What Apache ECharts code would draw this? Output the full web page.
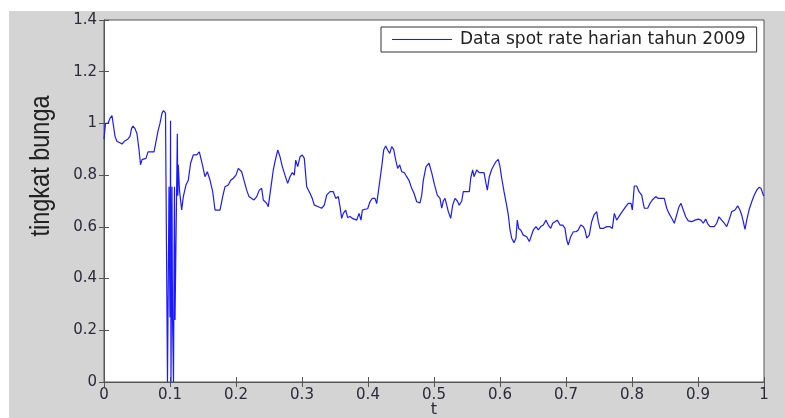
<!DOCTYPE html>
<html>
<head>
<meta charset="utf-8">
<script src="https://cdn.jsdelivr.net/npm/echarts@6/dist/echarts.min.js"></script>
<style>
  html, body { margin: 0; padding: 0; background: #ffffff; }
  #bg { position: absolute; left: 9px; top: 11px; width: 776px; height: 407px; background: #d4d4d4; }
  #chart { position: absolute; left: 0; top: 0; width: 785px; height: 418px; }
</style>
</head>
<body>
<div id="bg"></div>
<div id="chart"></div>
<script>
// x positions (t) and spot-rate values
const tValues = [
  0, 0.0023, 0.0061, 0.0091, 0.0121, 0.0144, 0.0167, 0.0197, 0.0242, 0.0273,
  0.0303, 0.0333, 0.0364, 0.0394, 0.0417, 0.0439, 0.0470, 0.0500, 0.0530, 0.0553,
  0.0576, 0.0606, 0.0636, 0.0667, 0.0697, 0.0727, 0.0758, 0.0788, 0.0818, 0.0848,
  0.0879, 0.0902, 0.0932, 0.0947, 0.0962, 0.0977, 0.0985, 0.1000, 0.1008, 0.1015,
  0.1030, 0.1038, 0.1053, 0.1068, 0.1076, 0.1098, 0.1111, 0.1118, 0.1126, 0.1144,
  0.1177, 0.1202, 0.1242, 0.1277, 0.1312, 0.1353, 0.1405, 0.1444, 0.1480, 0.1508,
  0.1530, 0.1565, 0.1606, 0.1647, 0.1682, 0.1758, 0.1798, 0.1833, 0.1883, 0.1920,
  0.1959, 0.2000, 0.2035, 0.2086, 0.2121, 0.2162, 0.2197, 0.2238, 0.2273, 0.2314,
  0.2353, 0.2389, 0.2414, 0.2465, 0.2489, 0.2515, 0.2541, 0.2565, 0.2591, 0.2632,
  0.2667, 0.2702, 0.2742, 0.2783, 0.2818, 0.2853, 0.2883, 0.2905, 0.2935, 0.2970,
  0.3005, 0.3035, 0.3071, 0.3121, 0.3156, 0.3186, 0.3247, 0.3298, 0.3338, 0.3374,
  0.3424, 0.3474, 0.3511, 0.3550, 0.3576, 0.3601, 0.3626, 0.3662, 0.3692, 0.3727,
  0.3762, 0.3792, 0.3829, 0.3864, 0.3894, 0.3914, 0.3955, 0.3995, 0.4030, 0.4065,
  0.4106, 0.4132, 0.4167, 0.4208, 0.4238, 0.4268, 0.4298, 0.4329, 0.4359, 0.4389,
  0.4420, 0.4450, 0.4480, 0.4511, 0.4550, 0.4586, 0.4621, 0.4662, 0.4697, 0.4738,
  0.4788, 0.4814, 0.4838, 0.4879, 0.4924, 0.4965, 0.5005, 0.5050, 0.5091, 0.5117,
  0.5141, 0.5167, 0.5192, 0.5217, 0.5253, 0.5283, 0.5318, 0.5353, 0.5383, 0.5420,
  0.5444, 0.5495, 0.5535, 0.5556, 0.5586, 0.5606, 0.5647, 0.5686, 0.5723, 0.5758,
  0.5788, 0.5808, 0.5838, 0.5874, 0.5909, 0.5939, 0.5974, 0.6000, 0.6026, 0.6061,
  0.6091, 0.6126, 0.6152, 0.6177, 0.6212, 0.6242, 0.6262, 0.6283, 0.6314, 0.6353,
  0.6405, 0.6444, 0.6470, 0.6505, 0.6545, 0.6580, 0.6617, 0.6656, 0.6697, 0.6732,
  0.6768, 0.6798, 0.6833, 0.6868, 0.6909, 0.6950, 0.6985, 0.7011, 0.7035, 0.7071,
  0.7111, 0.7152, 0.7186, 0.7223, 0.7262, 0.7288, 0.7314, 0.7353, 0.7389, 0.7424,
  0.7465, 0.7489, 0.7515, 0.7565, 0.7617, 0.7667, 0.7702, 0.7732, 0.7768, 0.7792,
  0.7833, 0.7868, 0.7905, 0.7944, 0.7985, 0.8005, 0.8035, 0.8071, 0.8106, 0.8147,
  0.8186, 0.8238, 0.8273, 0.8308, 0.8338, 0.8359, 0.8398, 0.8450, 0.8489, 0.8526,
  0.8561, 0.8602, 0.8641, 0.8677, 0.8712, 0.8742, 0.8777, 0.8814, 0.8853, 0.8905,
  0.8955, 0.9005, 0.9045, 0.9080, 0.9117, 0.9147, 0.9182, 0.9247, 0.9283, 0.9318,
  0.9359, 0.9398, 0.9435, 0.9470, 0.9511, 0.9535, 0.9561, 0.9601, 0.9636, 0.9662,
  0.9686, 0.9712, 0.9738, 0.9773, 0.9814, 0.9853, 0.9889, 0.9924, 0.9955, 0.9989,
  1.0
];
const spotRate = [
  0.94, 1.00, 1.00, 1.02, 1.03, 0.99, 0.95, 0.93, 0.925, 0.92,
  0.93, 0.935, 0.94, 0.95, 0.98, 0.99, 0.98, 0.96, 0.90, 0.84,
  0.86, 0.86, 0.865, 0.89, 0.895, 0.89, 0.89, 0.93, 0.97, 1.00,
  1.04, 1.05, 1.04, 0.51, 0.0, 0.0, 0.755, 0.25, 1.01, 0.0,
  0.755, 0.25, 0.0, 0.755, 0.24, 0.24, 0.96, 0.72, 0.84, 0.74,
  0.665, 0.717, 0.762, 0.78, 0.846, 0.878, 0.878, 0.89, 0.852, 0.82,
  0.794, 0.813, 0.781, 0.736, 0.665, 0.665, 0.717, 0.755, 0.762, 0.78,
  0.788, 0.80, 0.826, 0.813, 0.78, 0.742, 0.717, 0.71, 0.704, 0.717,
  0.742, 0.749, 0.704, 0.691, 0.678, 0.675, 0.775, 0.82, 0.852, 0.897,
  0.871, 0.833, 0.80, 0.768, 0.794, 0.81, 0.80, 0.858, 0.833, 0.871,
  0.878, 0.865, 0.755, 0.73, 0.71, 0.684, 0.678, 0.672, 0.684, 0.723,
  0.736, 0.736, 0.71, 0.717, 0.678, 0.633, 0.652, 0.665, 0.636, 0.64,
  0.633, 0.64, 0.626, 0.652, 0.626, 0.665, 0.668, 0.67, 0.697, 0.71,
  0.71, 0.69, 0.755, 0.833, 0.897, 0.913, 0.897, 0.884, 0.91, 0.90,
  0.858, 0.826, 0.84, 0.813, 0.81, 0.794, 0.78, 0.749, 0.73, 0.697,
  0.693, 0.723, 0.78, 0.833, 0.846, 0.81, 0.765, 0.723, 0.71, 0.672,
  0.70, 0.71, 0.685, 0.659, 0.633, 0.684, 0.71, 0.70, 0.684, 0.70,
  0.736, 0.736, 0.736, 0.788, 0.82, 0.794, 0.82, 0.81, 0.81, 0.81,
  0.768, 0.742, 0.794, 0.822, 0.839, 0.852, 0.861, 0.833, 0.788, 0.736,
  0.697, 0.646, 0.588, 0.556, 0.539, 0.556, 0.626, 0.594, 0.588, 0.568,
  0.562, 0.543, 0.562, 0.588, 0.601, 0.588, 0.601, 0.607, 0.626, 0.607,
  0.594, 0.614, 0.62, 0.626, 0.607, 0.607, 0.594, 0.549, 0.53, 0.562,
  0.581, 0.581, 0.588, 0.607, 0.601, 0.588, 0.556, 0.568, 0.62, 0.646,
  0.659, 0.62, 0.594, 0.594, 0.601, 0.601, 0.594, 0.652, 0.626, 0.633,
  0.652, 0.665, 0.678, 0.691, 0.691, 0.665, 0.758, 0.758, 0.736, 0.723,
  0.672, 0.672, 0.691, 0.704, 0.697, 0.717, 0.71, 0.71, 0.71, 0.672,
  0.652, 0.633, 0.614, 0.646, 0.678, 0.691, 0.665, 0.639, 0.623, 0.62,
  0.626, 0.63, 0.626, 0.614, 0.63, 0.612, 0.601, 0.601, 0.614, 0.639,
  0.626, 0.614, 0.601, 0.626, 0.659, 0.652, 0.665, 0.681, 0.665, 0.646,
  0.62, 0.59, 0.626, 0.665, 0.697, 0.723, 0.742, 0.753, 0.749, 0.723,
  0.72
];
const xTickLabels = ['0', '0.1', '0.2', '0.3', '0.4', '0.5', '0.6', '0.7', '0.8', '0.9', '1'];
const yTickLabels = ['0', '0.2', '0.4', '0.6', '0.8', '1', '1.2', '1.4'];
const seriesName = 'Data spot rate harian tahun 2009';

const seriesData = tValues.map((t, i) => [t, spotRate[i]]);

const axisColor = '#555555';
const labelColor = '#2a2a3a';
const tickFont = { fontFamily: 'DejaVu Sans', fontSize: 15, color: labelColor };

function xLabel(v) {
  const idx = Math.round(v * 10);
  return xTickLabels[idx] !== undefined ? xTickLabels[idx] : '';
}
function yLabel(v) {
  const idx = Math.round(v * 5);
  return yTickLabels[idx] !== undefined ? yTickLabels[idx] : '';
}

const chart = echarts.init(document.getElementById('chart'), null, { renderer: 'canvas' });
chart.setOption({
  animation: false,
  backgroundColor: 'transparent',
  grid: {
    left: 104, top: 20, width: 660, height: 362,
    outerBoundsMode: 'none',
    containLabel: false,
    show: true, backgroundColor: '#ffffff', borderColor: axisColor, borderWidth: 1
  },
  legend: {
    data: [seriesName],
    left: 381, top: 27,
    padding: [4, 11, 4, 11],
    borderColor: '#333333', borderWidth: 1,
    backgroundColor: '#ffffff',
    icon: 'rect',
    itemWidth: 60, itemHeight: 1.2,
    itemGap: 5,
    textStyle: { fontFamily: 'DejaVu Sans', fontSize: 17, color: '#222222', padding: [0, 0, 0, 3] }
  },
  xAxis: [
    {
      type: 'value', min: 0, max: 1, interval: 0.1,
      position: 'bottom',
      name: 't', nameLocation: 'middle', nameGap: 20,
      nameMoveOverlap: false,
      nameTextStyle: { fontFamily: 'DejaVu Sans', fontSize: 16, color: labelColor },
      axisLine: { show: true, lineStyle: { color: axisColor, width: 1 } },
      axisTick: { show: true, inside: true, length: 5, lineStyle: { color: axisColor } },
      axisLabel: Object.assign({ margin: 6, formatter: xLabel }, tickFont),
      splitLine: { show: false }
    },
    {
      type: 'value', min: 0, max: 1, interval: 0.1,
      position: 'top',
      axisLine: { show: true, lineStyle: { color: axisColor, width: 1 } },
      axisTick: { show: true, inside: true, length: 5, lineStyle: { color: axisColor } },
      axisLabel: { show: false },
      splitLine: { show: false }
    }
  ],
  yAxis: [
    {
      type: 'value', min: 0, max: 1.4, interval: 0.2,
      position: 'left',
      axisLine: { show: true, lineStyle: { color: axisColor, width: 1 } },
      axisTick: { show: true, inside: true, length: 5, lineStyle: { color: axisColor } },
      axisLabel: Object.assign({ margin: 7, formatter: yLabel }, tickFont),
      splitLine: { show: false }
    },
    {
      type: 'value', min: 0, max: 1.4, interval: 0.2,
      position: 'right',
      axisLine: { show: true, lineStyle: { color: axisColor, width: 1 } },
      axisTick: { show: true, inside: true, length: 5, lineStyle: { color: axisColor } },
      axisLabel: { show: false },
      splitLine: { show: false }
    }
  ],
  graphic: [
    {
      type: 'text',
      x: 42, y: 166,
      rotation: Math.PI / 2,
      scaleX: 0.87,
      style: {
        text: 'tingkat bunga',
        fontFamily: 'Liberation Sans',
        fontSize: 27,
        fill: '#222222',
        textAlign: 'center',
        textVerticalAlign: 'middle'
      }
    }
  ],
  series: [
    {
      name: seriesName,
      type: 'line',
      xAxisIndex: 0, yAxisIndex: 0,
      data: seriesData,
      showSymbol: false,
      symbol: 'none',
      sampling: null,
      clip: true,
      lineStyle: { color: '#1a1aff', width: 1.2 },
      itemStyle: { color: '#1a1aff' }
    }
  ]
});
</script>
</body>
</html>
